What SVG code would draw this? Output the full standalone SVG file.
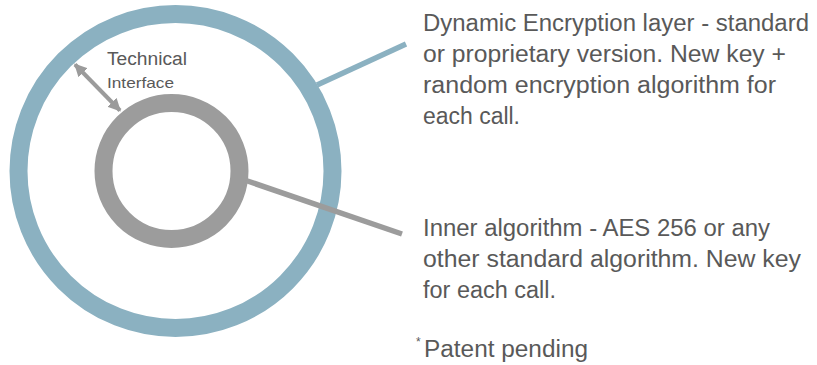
<svg xmlns="http://www.w3.org/2000/svg" width="817" height="365" viewBox="0 0 817 365">
  <style>
    .t { font-family: "Liberation Sans", Arial, sans-serif; fill: #595959; }
    .big { font-size: 23px; }
  </style>
  <defs>
    <marker id="ah" viewBox="0 0 10 10" refX="9" refY="5" markerWidth="3.2" markerHeight="3.2" orient="auto-start-reverse" markerUnits="strokeWidth">
      <path d="M0,0 L10,5 L0,10 z" fill="#9b9b9b"/>
    </marker>
  </defs>
  <rect width="817" height="365" fill="#ffffff"/>
  <g id="outer-layer">
    <circle cx="175.5" cy="171" r="157" fill="none" stroke="#8bb1c1" stroke-width="18"/>
  </g>
  <g id="inner-algorithm">
    <circle cx="171.5" cy="171" r="68" fill="none" stroke="#9c9c9c" stroke-width="18"/>
  </g>
  <g id="connectors">
    <line x1="317" y1="85" x2="406" y2="44" stroke="#8bb1c1" stroke-width="5.5"/>
    <line x1="246" y1="180.5" x2="402" y2="234" stroke="#9c9c9c" stroke-width="5.5"/>
    <line x1="75" y1="64.5" x2="120" y2="110.5" stroke="#9b9b9b" stroke-width="4" marker-start="url(#ah)" marker-end="url(#ah)"/>
  </g>
  <g id="technical-interface-label">
    <text class="t" x="107" y="65" font-size="18" textLength="80" lengthAdjust="spacingAndGlyphs">Technical</text>
    <text class="t" x="107" y="88" font-size="15" textLength="67" lengthAdjust="spacingAndGlyphs">Interface</text>
  </g>
  <g id="dynamic-label">
    <text class="t big" x="423" y="30.5" textLength="386" lengthAdjust="spacingAndGlyphs">Dynamic Encryption layer - standard</text>
    <text class="t big" x="423" y="62" textLength="363" lengthAdjust="spacingAndGlyphs">or proprietary version. New key +</text>
    <text class="t big" x="423" y="93" textLength="353" lengthAdjust="spacingAndGlyphs">random encryption algorithm for</text>
    <text class="t big" x="423" y="123.5" textLength="97" lengthAdjust="spacingAndGlyphs">each call.</text>
  </g>
  <g id="inner-label">
    <text class="t big" x="423" y="236" textLength="347" lengthAdjust="spacingAndGlyphs">Inner algorithm - AES 256 or any</text>
    <text class="t big" x="423" y="266.5" textLength="378" lengthAdjust="spacingAndGlyphs">other standard algorithm. New key</text>
    <text class="t big" x="423" y="297.5" textLength="133" lengthAdjust="spacingAndGlyphs">for each call.</text>
  </g>
  <g id="patent-note">
    <text class="t" x="416" y="346" font-size="12">*</text>
    <text class="t big" x="424" y="356.5" textLength="164" lengthAdjust="spacingAndGlyphs">Patent pending</text>
  </g>
</svg>
